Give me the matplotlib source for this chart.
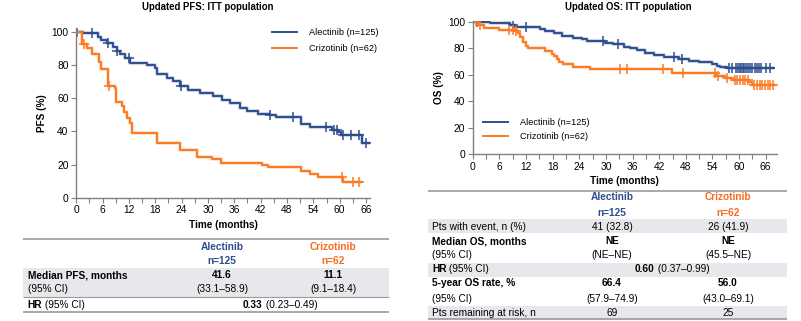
import numpy as np
import matplotlib.pyplot as plt
from matplotlib.ticker import MultipleLocator
from matplotlib.patches import Rectangle

plt.rcParams['font.family'] = ['Liberation Sans', 'DejaVu Sans']

BLUE = '#2d4e8e'
ORANGE = '#fc7a22'
HEAD_ORANGE = '#f96b1d'
GREY = '#808080'

# ---- Kaplan-Meier step data (months, %) ----
pfs_alec_t = [0, 1.6, 5.0, 5.6, 6.9, 8.4, 9.2, 9.9, 11.1, 12.2, 16.0, 17.9, 18.3, 20.6, 22.1,
              23.6, 25.5, 28.2, 31.2, 33.1, 35.0, 37.3, 38.8, 41.5, 44.1, 45.6, 51.3, 53.2,
              58.2, 59.7, 60.4, 65.0, 67.0]
pfs_alec_s = [100, 99.5, 97, 95, 93, 91, 88.5, 86.5, 84, 81, 80, 78, 74.5, 72, 70.5,
              67, 65, 63, 61, 59, 57, 54, 52, 50.5, 49.8, 48.8, 44.5, 42.8,
              40.8, 39.8, 37.8, 32.8, 32.8]
pfs_alec_cens = [0.2, 3.6, 7.3, 9.2, 12.1, 23.8, 44.1, 49.4, 56.9, 58.8, 59.4, 60.7,
                 62.6, 64.4, 66.1]

pfs_criz_t = [0, 1.4, 2.4, 3.5, 5.2, 5.6, 7.2, 8.8, 9.0, 10.4, 10.9, 11.6, 12.3, 12.7,
              18.3, 23.6, 27.6, 30.9, 33.0, 42.3, 43.7, 51.3, 53.2, 55.1, 60.8, 65.0]
pfs_criz_s = [100, 92.5, 90, 86.5, 82, 77.5, 67.3, 65.8, 57.5, 55.5, 51.5, 48, 45, 38.8,
              33.1, 28.5, 24.7, 23.1, 21.1, 19.5, 18.2, 16.2, 14.5, 12.5, 9.6, 9.6]
pfs_criz_cens = [1.8, 7.4, 60.5, 63.1, 64.4]

os_alec_t = [0, 3.9, 8.4, 9.5, 15.2, 16.3, 18.2, 20.1, 22.7, 24.6, 25.7, 29.9, 31.7, 34.0,
             35.5, 37.0, 38.9, 40.8, 43.0, 46.4, 48.7, 50.9, 53.9, 55.1, 55.8, 57.3, 67.8]
os_alec_s = [100, 99, 98, 96.5, 95, 93.4, 91.4, 89.4, 88, 87, 86, 84.5, 83, 81,
             80, 78.5, 76.5, 75, 73.8, 72.3, 70.5, 69.5, 68, 67, 66.2, 65.5, 65.5]
os_alec_cens = [0.9, 9.1, 11.9, 29.4, 32.8, 45.3, 47.2, 57.8, 58.5, 59.3, 59.8, 60.1, 60.4,
                60.8, 61.2, 61.6, 62.0, 62.5, 63.0, 63.5, 64.0, 64.5, 65.0, 66.0, 67.0]

os_criz_t = [0, 1.2, 2.6, 6.0, 9.5, 10.3, 10.7, 11.4, 11.9, 12.4, 16.3, 17.9, 18.3, 18.9,
             19.4, 20.4, 22.7, 26.4, 44.8, 54.7, 56.8, 58.7, 62.1, 63.0, 68.1]
os_criz_s = [100, 98, 95.5, 94, 93, 91.4, 88.9, 85, 82, 80, 78, 76, 74, 72,
             70, 68, 66.2, 64.5, 61.2, 59.4, 57.5, 55.8, 54.5, 52.5, 52.5]
os_criz_cens = [1.6, 8.1, 9.1, 9.8, 33.2, 34.7, 42.9, 47.4, 54.6, 55.2, 57.2, 59.0, 59.6,
                60.2, 60.8, 61.4, 62.0, 63.4, 64.0, 64.6, 65.2, 65.8, 66.4, 67.0, 67.6]

labels = ['Alectinib (n=125)', 'Crizotinib (n=62)']
x_ticks = list(range(0, 67, 6))
y_ticks = [0, 20, 40, 60, 80, 100]

# ---- table contents ----
arms = ['Alectinib', 'Crizotinib']
arm_n = ['n=125', 'n=62']
pfs_median = ['41.6', '11.1']
pfs_median_ci = ['(33.1–58.9)', '(9.1–18.4)']
pfs_hr = ['0.33', ' (0.23–0.49)']
os_events = ['41 (32.8)', '26 (41.9)']
os_median = ['NE', 'NE']
os_median_ci = ['(NE–NE)', '(45.5–NE)']
os_hr = ['0.60', ' (0.37–0.99)']
os_rate5 = ['66.4', '56.0']
os_rate5_ci = ['(57.9–74.9)', '(43.0–69.1)']
os_at_risk = ['69', '25']

W, H = 801, 321
fig = plt.figure(figsize=(W / 100, H / 100), dpi=100)


def at(t, s, c):
    idx = np.searchsorted(t, c, side='right') - 1
    return np.array(s)[idx]


def km(ax, t, s, cens, color, label):
    ax.step(t, s, where='post', color=color, lw=2.8, alpha=0.25, solid_capstyle='butt')
    ax.step(t, s, where='post', color=color, lw=1.4, label=label)
    ax.plot(cens, at(t, s, cens), ls='none', marker='+', ms=7.5, mew=1.1, color=color)


def style(ax, xmax, ylab):
    ax.set_xlim(0, xmax)
    ax.set_xticks(x_ticks)
    ax.xaxis.set_minor_locator(MultipleLocator(3))
    ax.set_yticks(y_ticks)
    for sp in ['top', 'right']:
        ax.spines[sp].set_visible(False)
    for sp in ['left', 'bottom']:
        ax.spines[sp].set_color(GREY)
        ax.spines[sp].set_linewidth(1.0)
    ax.tick_params(which='both', direction='out', length=3.6, width=0.8, color=GREY,
                   labelsize=7.4, pad=2)
    ax.set_xlabel('Time (months)', fontsize=7.2, fontweight='bold', labelpad=3)
    ax.set_ylabel(ylab, fontsize=7.2, fontweight='bold', labelpad=3)


# ---- left: PFS ----
ax1 = fig.add_axes([76.3 / W, 1 - 197.7 / H, 294.1 / W, 169.3 / H])
km(ax1, pfs_alec_t, pfs_alec_s, pfs_alec_cens, BLUE, labels[0])
km(ax1, pfs_criz_t, pfs_criz_s, pfs_criz_cens, ORANGE, labels[1])
ax1.set_ylim(0, 102)
style(ax1, 67, 'PFS (%)')
ax1.legend(loc='upper left', bbox_to_anchor=(0.665, 1.0), frameon=False, fontsize=6.6,
           handlelength=2.7, handletextpad=1.3, borderpad=0, borderaxespad=0,
           labelspacing=0.75)

# ---- right: OS ----
ax2 = fig.add_axes([472.7 / W, 1 - 154.3 / H, 4.44 * 68.5 / W, 101 * 1.323 / H])
km(ax2, os_alec_t, os_alec_s, os_alec_cens, BLUE, labels[0])
km(ax2, os_criz_t, os_criz_s, os_criz_cens, ORANGE, labels[1])
ax2.set_ylim(0, 101)
style(ax2, 68.5, 'OS (%)')
ax2.legend(loc='upper left', bbox_to_anchor=(0.034, 0.27), frameon=False, fontsize=6.6,
           handlelength=2.7, handletextpad=1.3, borderpad=0, borderaxespad=0,
           labelspacing=0.5)

# ---- overlay in pixel coordinates for titles and tables ----
tab = fig.add_axes([0, 0, 1, 1], zorder=-1)
tab.set_xlim(0, W)
tab.set_ylim(H, 0)
tab.axis('off')

FS = 7.3


def txt(x, y, s, bold=False, color='black', ha='left', fs=FS):
    return tab.text(x, y + 3.5, s, fontsize=fs, fontweight='bold' if bold else 'normal',
                    color=color, ha=ha, va='baseline')


def mixed(x, y, bold_part, rest):
    t1 = txt(x, y, bold_part, bold=True)
    tab.annotate(rest, xy=(1, 0), xycoords=t1, va='bottom', ha='left', fontsize=FS)


def band(x0, x1, y0, y1):
    tab.add_patch(Rectangle((x0, y0), x1 - x0, y1 - y0, color='#e7e8eb', lw=0))


def hline(x0, x1, y, lw=1.0):
    tab.plot([x0, x1], [y, y], color='#9a9a9a', lw=lw, solid_capstyle='butt')


txt(208, 6, 'Updated PFS: ITT population', bold=True, ha='center', fs=6.9)
txt(628, 7, 'Updated OS: ITT population', bold=True, ha='center', fs=6.9)

# left table
lx, c1, c2 = 27.5, 222, 333
band(23, 389, 267.5, 297)
hline(23, 389, 239, 1.2)
hline(23, 389, 297, 0.8)
hline(23, 389, 311.5, 1.2)
txt(c1, 246, arms[0], bold=True, color=BLUE, ha='center')
txt(c1, 260, arm_n[0], bold=True, color=BLUE, ha='center')
txt(c2, 246, arms[1], bold=True, color=HEAD_ORANGE, ha='center')
txt(c2, 260, arm_n[1], bold=True, color=HEAD_ORANGE, ha='center')
txt(lx, 275, 'Median PFS, months', bold=True)
txt(lx, 289, '(95% CI)')
txt(c1, 275, pfs_median[0], bold=True, ha='center')
txt(c2, 275, pfs_median[1], bold=True, ha='center')
txt(c1, 289, pfs_median_ci[0], ha='center')
txt(c2, 289, pfs_median_ci[1], ha='center')
mixed(lx, 304, 'HR', ' (95% CI)')
mixed(243, 304, pfs_hr[0], pfs_hr[1])

# right table
rx, d1, d2 = 432, 612, 728
band(428, 787, 219, 233)
band(428, 787, 263, 277)
band(428, 787, 305.5, 318.5)
hline(428, 787, 191, 1.2)
hline(428, 787, 318.5, 1.2)
txt(d1, 197, arms[0], bold=True, color=BLUE, ha='center')
txt(d1, 212, arm_n[0], bold=True, color=BLUE, ha='center')
txt(d2, 197, arms[1], bold=True, color=HEAD_ORANGE, ha='center')
txt(d2, 212, arm_n[1], bold=True, color=HEAD_ORANGE, ha='center')
rows = [
    (226, 'Pts with event, n (%)', False, os_events, False),
    (241, 'Median OS, months', True, os_median, True),
    (255, '(95% CI)', False, os_median_ci, False),
    (283, '5-year OS rate, %', True, os_rate5, True),
    (298, '(95% CI)', False, os_rate5_ci, False),
    (312, 'Pts remaining at risk, n', False, os_at_risk, False),
]
for y, lab, lb, vals, vb in rows:
    txt(rx, y, lab, bold=lb)
    txt(d1, y, vals[0], bold=vb, ha='center')
    txt(d2, y, vals[1], bold=vb, ha='center')
mixed(rx, 269, 'HR', ' (95% CI)')
mixed(635, 269, os_hr[0], os_hr[1])

fig.savefig('out.png', dpi=100)
